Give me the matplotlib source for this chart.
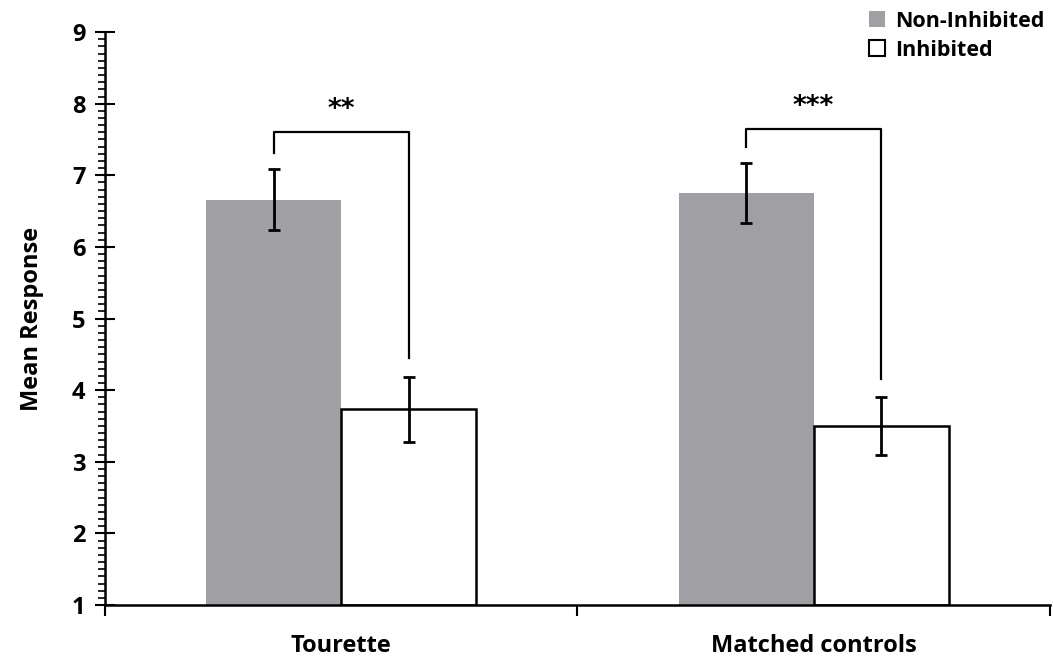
import matplotlib.pyplot as plt
import numpy as np
from matplotlib.patches import Patch
from matplotlib.ticker import MultipleLocator

# data
groups = ['Tourette', 'Matched controls']
non_inhibited = [6.66, 6.75]
non_inhibited_err = [0.43, 0.42]
inhibited = [3.73, 3.50]
inhibited_err = [0.45, 0.41]
stars = ['**', '***']
bracket_top = [7.61, 7.65]
bracket_left_end = [7.31, 7.40]
bracket_right_end = [4.45, 4.16]

plt.rcParams['font.family'] = ['Open Sans', 'DejaVu Sans']
plt.rcParams['font.weight'] = 'bold'

fig = plt.figure(figsize=(10.53, 6.65), dpi=100)
ax = fig.add_axes([0.0997, 0.0902, 0.8973, 0.8616])

x = np.arange(len(groups))
w = 0.286
gray = '#a09fa3'

ax.bar(x - w / 2, np.array(non_inhibited) - 1, w, bottom=1, color=gray, edgecolor='none', zorder=1)
ax.bar(x + w / 2, np.array(inhibited) - 1, w, bottom=1, color='white', edgecolor='black', linewidth=1.8, zorder=1)
ax.errorbar(x - w / 2, non_inhibited, yerr=non_inhibited_err, fmt='none', ecolor='black',
            elinewidth=2, capsize=4, capthick=2, zorder=3)
ax.errorbar(x + w / 2, inhibited, yerr=inhibited_err, fmt='none', ecolor='black',
            elinewidth=2, capsize=4, capthick=2, zorder=3)

# significance brackets
for i in range(len(groups)):
    xl = x[i] - w / 2
    xr = x[i] + w / 2
    ax.plot([xl, xl, xr, xr], [bracket_left_end[i], bracket_top[i], bracket_top[i], bracket_right_end[i]],
            color='black', linewidth=1.6, zorder=2)
    ax.text(x[i], bracket_top[i] + 0.12, stars[i], ha='center', va='bottom', fontsize=19,
            fontweight='bold', family='DejaVu Sans')

ax.set_xlim(-0.5, 1.5)
ax.set_ylim(1, 9)
ax.yaxis.set_major_locator(MultipleLocator(1))
ax.yaxis.set_minor_locator(MultipleLocator(0.1))
ax.tick_params(axis='y', which='major', direction='inout', length=14, width=1.5, labelsize=17, pad=7)
ax.tick_params(axis='y', which='minor', direction='out', length=5, width=1.2)

ax.set_xticks([-0.5, 0.5, 1.5])
ax.set_xticklabels([])
ax.set_xticks(x, minor=True)
ax.set_xticklabels(groups, minor=True, fontsize=17, fontweight='bold')
ax.tick_params(axis='x', which='major', direction='out', length=8, width=1.5)
ax.tick_params(axis='x', which='minor', length=0, pad=21)

ax.set_ylabel('Mean Response', fontsize=17, fontweight='bold', labelpad=20)
for s in ['top', 'right']:
    ax.spines[s].set_visible(False)
ax.spines['left'].set_linewidth(1.8)
ax.spines['bottom'].set_linewidth(1.8)
ax.spines['left'].set_zorder(4)

handles = [Patch(facecolor=gray, edgecolor='none', label='Non-Inhibited'),
           Patch(facecolor='white', edgecolor='black', linewidth=1.5, label='Inhibited')]
fig.legend(handles=handles, loc='upper right', bbox_to_anchor=(1.008, 1.01), frameon=False,
           handlelength=0.75, handleheight=0.75, handletextpad=0.45, labelspacing=0.38,
           borderpad=0.3, prop={'weight': 'bold', 'size': 15.5})

fig.savefig('out.png', dpi=100)
